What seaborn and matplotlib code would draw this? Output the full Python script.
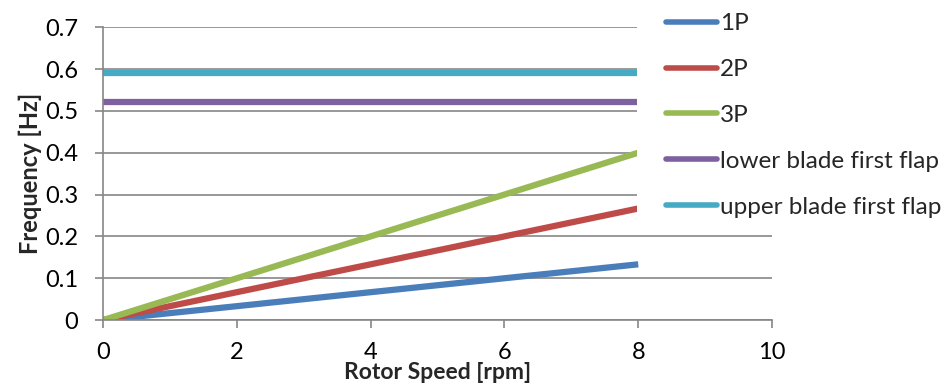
import matplotlib
matplotlib.use("Agg")
import matplotlib.pyplot as plt
import pandas as pd
import seaborn as sns
from matplotlib.patches import Rectangle

ROTOR_SPEED = [0, 2, 4, 6, 8]
FREQ_1P = [0.0, 0.0333, 0.0667, 0.1, 0.1333]
FREQ_2P = [0.0, 0.0667, 0.1333, 0.2, 0.2667]
FREQ_3P = [0.0, 0.1, 0.2, 0.3, 0.4]
LOWER_FLAP = [0.52, 0.52, 0.52, 0.52, 0.52]
UPPER_FLAP = [0.59, 0.59, 0.59, 0.59, 0.59]

SERIES_NAMES = ["1P", "2P", "3P", "lower blade first flap", "upper blade first flap"]
COLORS = ["#4A7EBB", "#BE4B48", "#98B954", "#7D60A0", "#46AAC5"]


def main():
    series = [FREQ_1P, FREQ_2P, FREQ_3P, LOWER_FLAP, UPPER_FLAP]
    frames = []
    for name, values in zip(SERIES_NAMES, series):
        frames.append(pd.DataFrame({"rpm": ROTOR_SPEED, "freq": values, "series": name}))
    df = pd.concat(frames, ignore_index=True)

    sns.set_style("white")
    plt.rcParams["font.family"] = ["Lato", "DejaVu Sans"]

    fig = plt.figure(figsize=(9.45, 3.88), dpi=100)
    ax = fig.add_axes([0.109, 0.175, 0.708, 0.755])

    sns.lineplot(
        data=df,
        x="rpm",
        y="freq",
        hue="series",
        hue_order=SERIES_NAMES,
        palette=COLORS,
        linewidth=4.5,
        solid_capstyle="butt",
        ax=ax,
    )

    ax.set_xlim(0, 10)
    ax.set_ylim(0, 0.7)
    ax.set_xticks([0, 2, 4, 6, 8, 10])
    ax.set_yticks([0, 0.1, 0.2, 0.3, 0.4, 0.5, 0.6, 0.7])
    ax.set_yticklabels(["0", "0.1", "0.2", "0.3", "0.4", "0.5", "0.6", "0.7"])
    ax.yaxis.grid(True, color="#868686", linewidth=1.2)
    ax.set_axisbelow(True)
    ax.tick_params(axis="both", labelsize=17, colors="#868686", labelcolor="black",
                   length=6, width=1.2, direction="out", left=True, bottom=True)
    ax.tick_params(axis="x", pad=10)
    ax.tick_params(axis="y", pad=12)
    for side in ["top", "right"]:
        ax.spines[side].set_visible(False)
    for side in ["left", "bottom"]:
        ax.spines[side].set_color("#868686")
        ax.spines[side].set_linewidth(1.2)

    ax.set_xlabel("Rotor Speed [rpm]", fontsize=16.5, fontweight="bold", labelpad=-1)
    ax.set_ylabel("Frequency [Hz]", fontsize=17, fontweight="bold", labelpad=2)

    # white legend area hides the right part of the upper grid lines
    fig.patches.append(Rectangle((637 / 945, 1 - 222 / 388), 1, 1,
                                 transform=fig.transFigure, facecolor="white",
                                 edgecolor="none", zorder=1))

    legend = fig.legend(
        *ax.get_legend_handles_labels(),
        loc="upper left",
        bbox_to_anchor=(659 / 945, 1 - 6 / 388),
        frameon=False,
        fontsize=17.5,
        handlelength=2.1,
        handletextpad=0.1,
        labelspacing=1.02,
        borderpad=0.3,
        borderaxespad=0,
    )
    legend.set_zorder(5)
    ax.get_legend().remove()
    for line in legend.get_lines():
        line.set_linewidth(4)
        line.set_solid_capstyle("round")

    fig.savefig("out.png", dpi=100)
    plt.close(fig)


if __name__ == "__main__":
    main()
